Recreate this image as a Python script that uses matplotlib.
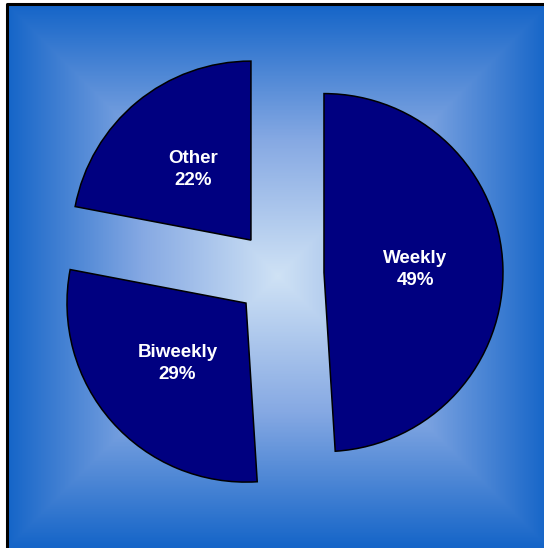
import numpy as np
import matplotlib.pyplot as plt
from matplotlib.colors import LinearSegmentedColormap

labels = ['Weekly', 'Biweekly', 'Other']
values = [49, 29, 22]

W, H = 544, 548
fig = plt.figure(figsize=(W / 100, H / 100), dpi=100)
ax = fig.add_axes([0, 0, 1, 1])

# rectangular "from center" gradient background
x0, x1, y0, y1 = 7, 549, 0, 544
cx, cy = 278, 272
xs = np.linspace(x0, x1, 400)
ys = np.linspace(y0, y1, 400)
X, Y = np.meshgrid(xs, ys)
t = np.maximum(np.abs(X - cx) / (x1 - cx), np.abs(Y - cy) / (y1 - cy))
cmap = LinearSegmentedColormap.from_list('bg', ['#cfe2f5', '#86a9e3', '#1565c8'])
ax.imshow(t, cmap=cmap, extent=(x0, x1, y0, y1), origin='lower', zorder=0, vmin=0, vmax=1)
ax.plot([x0, x0, W], [0, y1, y1], color='black', lw=2.2, zorder=1)

wedges, _ = ax.pie(values, startangle=90, counterclock=False, center=(279, 274),
                   radius=179, explode=[45, 44, 44], colors=['#000080'] * 3,
                   wedgeprops=dict(edgecolor='black', linewidth=1.1))

for w, lab, v in zip(wedges, labels, values):
    ang = np.deg2rad((w.theta1 + w.theta2) / 2)
    tx = w.center[0] + 0.51 * w.r * np.cos(ang)
    ty = w.center[1] + 0.51 * w.r * np.sin(ang)
    ax.text(tx, ty, f'{lab}\n{v}%', ha='center', va='center', color='white',
            fontsize=13.5, fontweight='bold', family='Liberation Sans', linespacing=1.4)

ax.set_xlim(0, W)
ax.set_ylim(0, H)
ax.set_aspect('auto')
ax.axis('off')
fig.savefig('out.png', dpi=100)
